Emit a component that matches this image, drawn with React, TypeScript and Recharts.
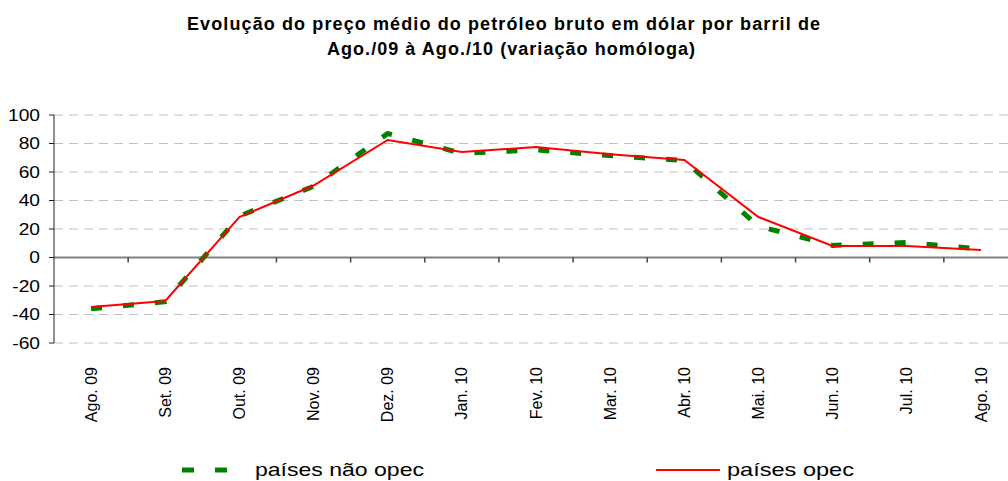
import React from "react";
import {
  LineChart,
  Line,
  XAxis,
  YAxis,
  CartesianGrid,
  ReferenceLine,
} from "recharts";

const months = [
  "Ago. 09", "Set. 09", "Out. 09", "Nov. 09", "Dez. 09", "Jan. 10", "Fev. 10",
  "Mar. 10", "Abr. 10", "Mai. 10", "Jun. 10", "Jul. 10", "Ago. 10",
];
const naoOpec = [-36, -31, 29, 50, 87, 73, 75.5, 71.5, 68, 22, 8.5, 10.5, 6];
const opec = [-34.7, -30.5, 28.4, 50.5, 82.5, 74, 77.5, 72.5, 68.4, 28.4, 8.1, 8.1, 5.3];
const yTicks = [-60, -40, -20, 0, 20, 40, 60, 80, 100];

const data = months.map((m, i) => ({ month: m, naoOpec: naoOpec[i], opec: opec[i] }));

const FONT = "Arial, 'Liberation Sans', sans-serif";

function MonthTick(props: any) {
  const { x, y, payload } = props;
  const ty = y + 16;
  return (
    <text
      x={x}
      y={ty}
      transform={`rotate(-90, ${x}, ${ty})`}
      textAnchor="end"
      dy="0.35em"
      fontSize={16}
      fontFamily={FONT}
      fill="#000"
    >
      {payload.value}
    </text>
  );
}

// excel stretches the value labels a bit wider than the font
function ValueTick(props: any) {
  const { x, y, payload } = props;
  return (
    <g transform={`translate(${x}, ${y}) scale(1.2, 1)`}>
      <text x={0} y={0} dy="0.35em" textAnchor="end" fontSize={16} fontFamily={FONT} fill="#000">
        {payload.value}
      </text>
    </g>
  );
}

export default function App() {
  return (
    <div
      style={{
        position: "absolute",
        left: 0,
        top: 0,
        width: 1008,
        height: 481,
        overflow: "hidden",
        background: "#fff",
      }}
    >
      <LineChart
        width={1020}
        height={481}
        data={data}
        margin={{ top: 115, right: 2, bottom: 0, left: 0 }}
      >
        <CartesianGrid vertical={false} stroke="#c0c0c0" strokeDasharray="9 6" />
        <XAxis
          dataKey="month"
          scale="band"
          height={138}
          axisLine={false}
          tickLine={false}
          interval={0}
          tick={<MonthTick />}
        />
        <YAxis
          width={54}
          domain={[-60, 100]}
          ticks={yTicks}
          interval={0}
          tickSize={5}
          tickMargin={9}
          axisLine={{ stroke: "#222" }}
          tickLine={{ stroke: "#222" }}
          tick={<ValueTick />}
        />
        <ReferenceLine y={0} stroke="#808080" strokeWidth={2} />
        {months.slice(1).map((m) => (
          <ReferenceLine
            key={m}
            position="start"
            segment={[
              { x: m, y: 0 },
              { x: m, y: -3.5 },
            ]}
            stroke="#444"
            strokeWidth={1.5}
          />
        ))}
        <Line
          dataKey="naoOpec"
          stroke="#008000"
          strokeWidth={5}
          strokeDasharray="11 21"
          dot={false}
          isAnimationActive={false}
        />
        <Line
          dataKey="opec"
          stroke="#ff0000"
          strokeWidth={2}
          dot={false}
          isAnimationActive={false}
        />
      </LineChart>
      <svg
        width={1008}
        height={481}
        style={{ position: "absolute", left: 0, top: 0, pointerEvents: "none" }}
      >
        <text
          x={187}
          y={30}
          fontSize={18}
          fontWeight="bold"
          fontFamily={FONT}
          textLength={633}
          lengthAdjust="spacing"
        >
          Evolução do preço médio do petróleo bruto em dólar por barril de
        </text>
        <text
          x={327}
          y={55}
          fontSize={18}
          fontWeight="bold"
          fontFamily={FONT}
          textLength={368}
          lengthAdjust="spacing"
        >
          Ago./09 à Ago./10 (variação homóloga)
        </text>
        <line x1={182} y1={470} x2={248} y2={470} stroke="#008000" strokeWidth={5} strokeDasharray="12 21" />
        <text
          x={255}
          y={476}
          fontSize={19}
          fontFamily={FONT}
          textLength={169}
          lengthAdjust="spacingAndGlyphs"
        >
          países não opec
        </text>
        <line x1={656} y1={470} x2={720} y2={470} stroke="#ff0000" strokeWidth={2} />
        <text
          x={727}
          y={476}
          fontSize={19}
          fontFamily={FONT}
          textLength={127}
          lengthAdjust="spacingAndGlyphs"
        >
          países opec
        </text>
      </svg>
    </div>
  );
}
